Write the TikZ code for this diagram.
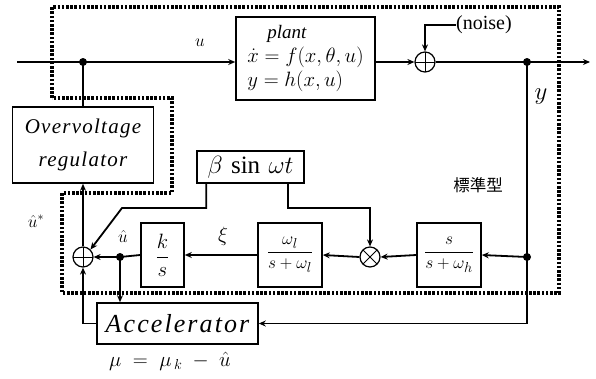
\documentclass[tikz,border=0pt]{standalone}
\usepackage{fontspec}
\setmainfont{Liberation Serif}
\newfontfamily\cjk{Noto Sans CJK JP}
\usepackage{amsmath}
\usetikzlibrary{arrows.meta, positioning}

\begin{document}
\begin{tikzpicture}[
  x=1pt, y=-1pt,
  block/.style={rectangle, draw, line width=1.6pt, inner sep=0pt, align=center},
  sumnode/.style={circle, draw, line width=1.2pt, minimum size=20pt, inner sep=0pt,
    path picture={\draw[line width=1pt] (path picture bounding box.north) -- (path picture bounding box.south)
      (path picture bounding box.west) -- (path picture bounding box.east);}},
  mulnode/.style={circle, draw, line width=1.2pt, minimum size=20pt, inner sep=0pt,
    path picture={\draw[line width=1pt] (path picture bounding box.north west) -- (path picture bounding box.south east)
      (path picture bounding box.south west) -- (path picture bounding box.north east);}},
  dot/.style={circle, fill, inner sep=0pt, minimum size=8pt},
  wire/.style={line width=1.8pt},
  arrow/.style={-{Stealth[length=7pt, width=6pt]}, line width=1.8pt},
  loopline/.style={line width=3.2pt, dash pattern=on 2.6pt off 1.6pt},
  lbl/.style={font=\fontsize{18}{20}\selectfont}
]
  \useasboundingbox (0,0) rectangle (596,378);

  % dotted frame
  \draw[loopline] (52,98) -- (52,7) -- (559,7) -- (559,293) -- (62,293) -- (62,193) -- (172,193) -- (172,98) -- cycle;

  % blocks
  \node[block, minimum width=139pt, minimum height=83pt, align=left, font=\fontsize{22}{24}\selectfont] (plant) at (305.5,58.5)
    {\hspace*{20pt}{\fontsize{19}{21}\selectfont\itshape plant}\\$\dot x = f(x,\theta,u)$\\$y = h(x,u)$};
  \node[block, minimum width=141pt, minimum height=76pt, font=\fontsize{21}{33}\selectfont\itshape\addfontfeature{LetterSpace=6}] (reg) at (83,145)
    {Overvoltage\\regulator};
  \node[block, minimum width=107pt, minimum height=32pt, font=\fontsize{25}{27}\selectfont] (beta) at (250.5,167) {$\beta\,\sin\,\omega t$};
  \node[block, minimum width=43pt, minimum height=64pt, font=\fontsize{21}{23}\selectfont] (ks) at (162.5,255) {$\dfrac{k}{s}$};
  \node[block, minimum width=64pt, minimum height=64pt, font=\fontsize{19}{21}\selectfont] (lp) at (290,255) {$\dfrac{\omega_l}{s+\omega_l}$};
  \node[block, minimum width=64pt, minimum height=64pt, font=\fontsize{19}{21}\selectfont] (hp) at (449,255) {$\dfrac{s}{s+\omega_h}$};
  \node[block, minimum width=161pt, minimum height=41pt, font=\fontsize{26}{28}\selectfont\itshape\addfontfeature{LetterSpace=8}] (acc) at (177.5,323.5) {Accelerator};

  \node[sumnode] (sumN) at (425,62) {};
  \node[sumnode] (sumL) at (83,257) {};
  \node[mulnode] (mult) at (370,257) {};

  \coordinate (uin) at (17,62);
  \coordinate (ujn) at (83,62);
  \coordinate (yjn) at (527,62);
  \coordinate (yjn2) at (527,257);
  \coordinate (uhat) at (120,257);
  \coordinate (yout) at (590,62);
  \coordinate (bend) at (122,208);

  % labels
  \node[lbl] (ulbl) at (200,43) {$u$};
  \node[font=\fontsize{24}{26}\selectfont] (ylbl) at (541,97) {$y$};
  \node[anchor=west, inner sep=0pt, font=\fontsize{20}{22}\selectfont] (noise) at (456,25) {(noise)};
  \node[font=\fontsize{22}{24}\selectfont] (xilbl) at (223,236) {$\xi$};
  \node[lbl] (uhatlbl) at (123,236) {$\hat u$};
  \node[lbl] (ustarlbl) at (36,221) {$\hat u^{*}$};
  \node[font=\fontsize{16.5}{18}\selectfont\cjk] (kind) at (478,185) {標準型};
  \node[font=\fontsize{20}{22}\selectfont] (mulbl) at (170,361) {$\mu\;=\;\mu_{\,k}\;-\;\hat{u}$};

  % connectors
  \draw[wire] (uin) -- (ujn);
  \draw[arrow] (ujn) -- (ujn -| plant.west);
  \draw[wire] (reg.north) -- (ujn);
  \draw[arrow] (plant.east |- sumN) -- (sumN.west);
  \draw[arrow] (noise.west) -| (sumN.north);
  \draw[wire] (sumN.east) -- (yjn);
  \draw[arrow] (yjn) -- (yout);
  \draw[wire] (yjn) -- (yjn2);
  \draw[arrow] (yjn2) -- (hp.east);
  \draw[arrow] (hp.west) -- (mult.east);
  \draw[arrow] (mult.west) -- (lp.east);
  \draw[arrow] (lp.west) -- (ks.east);
  \draw[wire] (ks.west) -- (uhat);
  \draw[arrow] (uhat) -- (sumL.east);
  \draw[arrow] (uhat) -- (uhat |- acc.north);
  \draw[arrow] (yjn2) |- (acc.east);
  \draw[arrow] (acc.west) -| (sumL.south);
  \draw[arrow] (sumL.north) -- (reg.south);
  \draw[arrow] ([xshift=10pt]beta.south west) |- (bend) -- (sumL.north east);
  \draw[arrow] ([xshift=-17pt]beta.south east) -- ++(0,24) -| (mult.north);

  % junction dots
  \node[dot] (d1) at (ujn) {};
  \node[dot] (d2) at (yjn) {};
  \node[dot] (d3) at (yjn2) {};
  \node[dot] (d4) at (uhat) {};

\end{tikzpicture}
\end{document}
